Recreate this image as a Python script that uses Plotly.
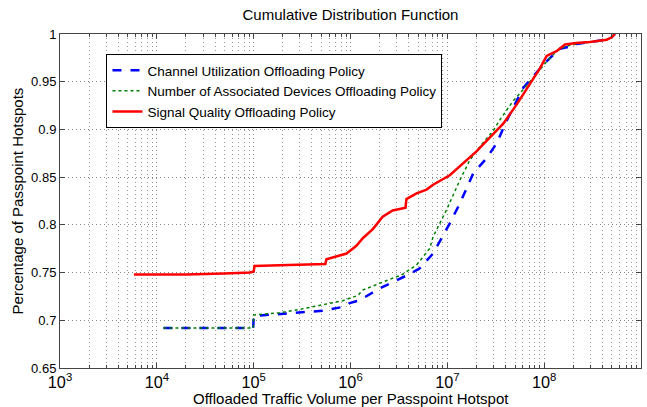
import plotly.graph_objects as go

# Channel Utilization Offloading Policy (blue dashed)
cu_x = [1.17e4, 5e4, 9.9e4, 1.0e5, 1.86e5, 5.16e5, 8.3e5, 9.8e5, 1.19e6, 1.34e6, 2.01e6, 2.9e6,
        3.49e6, 4.09e6, 5.2e6, 6.59e6, 7.13e6, 1.06e7, 1.35e7, 1.85e7, 2.54e7, 3.23e7, 4.09e7,
        6.07e7, 9.78e7, 1.24e8, 1.46e8, 1.71e8, 1.98e8, 2.16e8, 2.97e8, 4.42e8, 4.98e8, 5.38e8]
cu_y = [0.692, 0.692, 0.692, 0.7045, 0.7063, 0.710, 0.714, 0.718, 0.7205, 0.723, 0.7335, 0.741,
        0.745, 0.7485, 0.7545, 0.766, 0.770, 0.8016, 0.8226, 0.854, 0.8697, 0.8855, 0.909,
        0.9434, 0.9678, 0.978, 0.9846, 0.986, 0.986, 0.9895, 0.9916, 0.994, 0.9965, 1.0]

# Number of Associated Devices Offloading Policy (green dotted)
nd_x = [1.17e4, 5e4, 9.9e4, 1.0e5, 1.86e5, 3.2e5, 6.1e5, 8.3e5, 1.19e6, 1.34e6, 2.99e6, 3.36e6,
        4.81e6, 6.59e6, 7.13e6, 9.8e6, 1.35e7, 1.71e7, 2.17e7, 2.97e7, 3.49e7, 4.75e7, 7.12e7,
        1.06e8, 1.34e8, 1.64e8, 2.16e8, 2.97e8, 4.42e8, 4.98e8, 5.38e8]
nd_y = [0.692, 0.692, 0.692, 0.7055, 0.708, 0.712, 0.7178, 0.7205, 0.726, 0.7317, 0.7457, 0.7474,
        0.758, 0.7754, 0.7876, 0.8156, 0.847, 0.868, 0.882, 0.8985, 0.910, 0.9295, 0.950,
        0.971, 0.9819, 0.987, 0.9895, 0.9916, 0.994, 0.9965, 1.0]

# Signal Quality Offloading Policy (red solid)
sq_x = [5.8e3, 2e4, 5e4, 9.1e4, 1.0e5, 1.02e5, 1.86e5, 5.5e5, 5.64e5, 9.1e5, 1.15e6, 1.34e6,
        1.70e6, 2.15e6, 2.73e6, 3.7e6, 3.78e6, 4.81e6, 6.1e6, 7.13e6, 1.06e7, 1.46e7, 2.0e7,
        2.6e7, 3.78e7, 5.19e7, 7.12e7, 9.04e7, 1.06e8, 1.34e8, 1.64e8, 2.16e8, 2.97e8, 4.42e8,
        4.98e8, 5.38e8]
sq_y = [0.748, 0.748, 0.749, 0.750, 0.751, 0.757, 0.7577, 0.759, 0.764, 0.770, 0.778, 0.786,
        0.7955, 0.8085, 0.815, 0.818, 0.827, 0.833, 0.837, 0.842, 0.852, 0.8645, 0.877,
        0.889, 0.906, 0.926, 0.947, 0.964, 0.977, 0.982, 0.989, 0.9906, 0.9916, 0.994,
        0.9965, 1.0]

FONT = "Liberation Sans, Arial, Helvetica, sans-serif"
GRID_DASH = "1px,3px"

fig = go.Figure()
fig.add_trace(go.Scatter(x=cu_x, y=cu_y, mode="lines", name="Channel Utilization Offloading Policy",
                         line=dict(color="#0000ff", width=2.5, dash="dash")))
fig.add_trace(go.Scatter(x=nd_x, y=nd_y, mode="lines", name="Number of Associated Devices Offloading Policy",
                         line=dict(color="#008000", width=1.5, dash="dot")))
fig.add_trace(go.Scatter(x=sq_x, y=sq_y, mode="lines", name="Signal Quality Offloading Policy",
                         line=dict(color="#ff0000", width=2.5)))

fig.update_layout(
    width=647, height=407,
    margin=dict(l=60, r=6, t=34, b=39, autoexpand=False),
    paper_bgcolor="white", plot_bgcolor="white",
    font=dict(family=FONT, size=13, color="black"),
    title=dict(text="Cumulative Distribution Function", x=0.5, xref="paper", xanchor="center",
               y=1 - 15 / 407, yanchor="middle", yref="container",
               font=dict(size=15, family=FONT)),
    legend=dict(x=0.08, y=0.94, xanchor="left", yanchor="top",
                bgcolor="white", bordercolor="black", borderwidth=1,
                font=dict(size=13.5, family=FONT), tracegroupgap=0),
    showlegend=True,
    annotations=[
        dict(text="Offloaded Traffic Volume per Passpoint Hotspot", xref="paper", yref="paper",
             x=0.5, y=-(398 - 368) / 334, xanchor="center", yanchor="middle", showarrow=False,
             font=dict(size=15, family=FONT)),
        dict(text="Percentage of Passpoint Hotspots", xref="paper", yref="paper",
             x=-(60.5 - 18) / 580.5, y=0.5, xanchor="center", yanchor="middle", showarrow=False,
             textangle=-90, font=dict(size=15, family=FONT)),
    ],
)

fig.update_xaxes(
    type="log", range=[3, 9], dtick=1, exponentformat="power", showexponent="all",
    automargin=False,
    showline=True, linecolor="#444", linewidth=1, mirror="ticks",
    ticks="inside", ticklen=5, tickcolor="#444",
    showgrid=True, gridcolor="#888", griddash=GRID_DASH, gridwidth=1,
    minor=dict(showgrid=True, gridcolor="#999", griddash=GRID_DASH, ticks="inside", ticklen=3,
               tickcolor="#444"),
    zeroline=False,
    tickfont=dict(size=13, family=FONT),
)
fig.update_yaxes(
    range=[0.65, 1.0], dtick=0.05, tickformat="~g",
    automargin=False,
    showline=True, linecolor="#444", linewidth=1, mirror="ticks",
    ticks="inside", ticklen=5, tickcolor="#444",
    showgrid=True, gridcolor="#888", griddash=GRID_DASH, gridwidth=1,
    zeroline=False,
    tickfont=dict(size=13, family=FONT),
)

fig.write_html("out.html", config={"displayModeBar": False},
               post_script="document.body.style.margin='0px';")
